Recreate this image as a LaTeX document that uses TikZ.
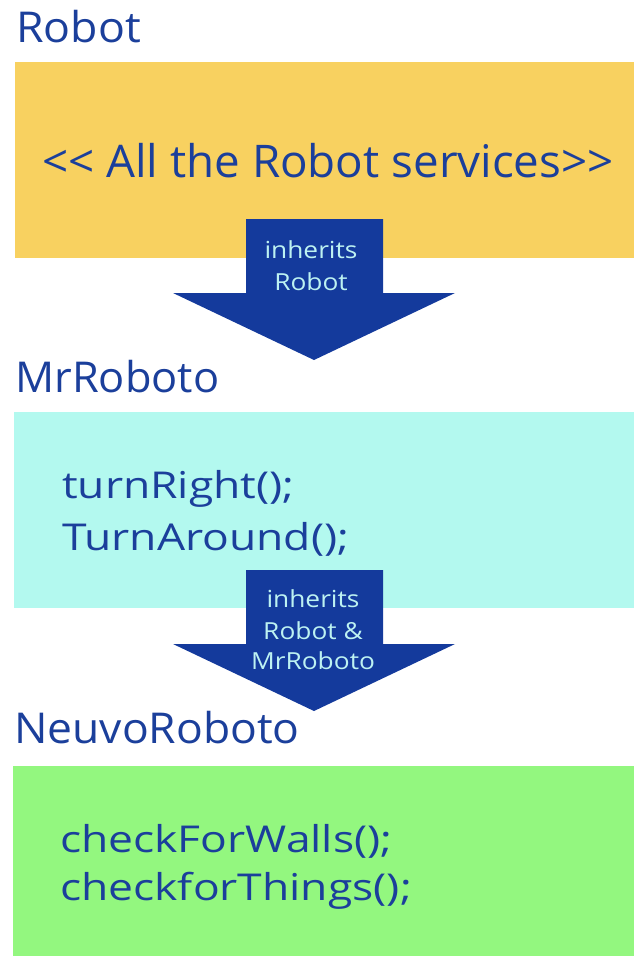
\documentclass[tikz,border=0pt]{standalone}
\usepackage{graphicx}
\usepackage{fontspec}
\setmainfont{Open Sans}
\definecolor{txtblue}{HTML}{1B3F9B}
\definecolor{arrblue}{HTML}{143A9C}
\definecolor{arrtxt}{HTML}{BDF2F2}
\definecolor{boxyellow}{HTML}{F8D160}
\definecolor{boxcyan}{HTML}{B3F9EF}
\definecolor{boxgreen}{HTML}{93F77F}
\newcommand{\wideT}[2]{\scalebox{#1}[1]{#2}}
\tikzset{
  title/.style={anchor=base west, inner sep=0pt, text=txtblue, font=\fontsize{42.5}{50}\selectfont},
  body/.style={anchor=base west, inner sep=0pt, text=txtblue, font=\fontsize{37}{52}\selectfont},
  arrlabel/.style={anchor=base, inner sep=0pt, text=arrtxt, font=\fontsize{23.5}{31}\selectfont},
  bigarrow/.style={fill=arrblue, draw=none}
}
\begin{document}
\begin{tikzpicture}[x=1pt,y=-1pt]
\useasboundingbox (0,0) rectangle (634,956);
% boxes
\fill[boxyellow] (15,62) rectangle (634,258);
\fill[boxcyan] (14,412) rectangle (634,608);
\fill[boxgreen] (13,766) rectangle (634,956);
% titles
\node[title] (t1) at (16,42) {\wideT{1.05}{Robot}};
\node[title] (t2) at (15,392) {\wideT{1.02}{MrRoboto}};
\node[title] (t3) at (14,743) {\wideT{1.045}{NeuvoRoboto}};
% box texts
\node[anchor=base west, inner sep=0pt, text=txtblue, font=\fontsize{45}{52}\selectfont] (s1) at (42,177) {\wideT{1.016}{<{}< All the Robot services>{}>}};
\node[body] (m1) at (62,498) {\wideT{1.2}{turnRight();}};
\node[body] (m2) at (62,550) {\wideT{1.2}{TurnAround();}};
\node[body] (n1) at (60,852) {\wideT{1.2}{checkForWalls();}};
\node[body] (n2) at (60,900) {\wideT{1.2}{checkforThings();}};
% arrows
\fill[bigarrow] (246,219) -- (383,219) -- (383,293) -- (455,293) -- (314,360) -- (173,293) -- (246,293) -- cycle;
\fill[bigarrow] (246,570) -- (383,570) -- (383,644) -- (455,644) -- (314,711) -- (173,644) -- (246,644) -- cycle;
\node[arrlabel] (a1a) at (311,258) {\wideT{1.12}{inherits}};
\node[arrlabel] (a1b) at (311,290) {\wideT{1.12}{Robot}};
\node[arrlabel] (a2a) at (313,607) {\wideT{1.12}{inherits}};
\node[arrlabel] (a2b) at (313,639) {\wideT{1.12}{Robot \&}};
\node[arrlabel] (a2c) at (313,669) {\wideT{1.12}{MrRoboto}};
\end{tikzpicture}
\end{document}
